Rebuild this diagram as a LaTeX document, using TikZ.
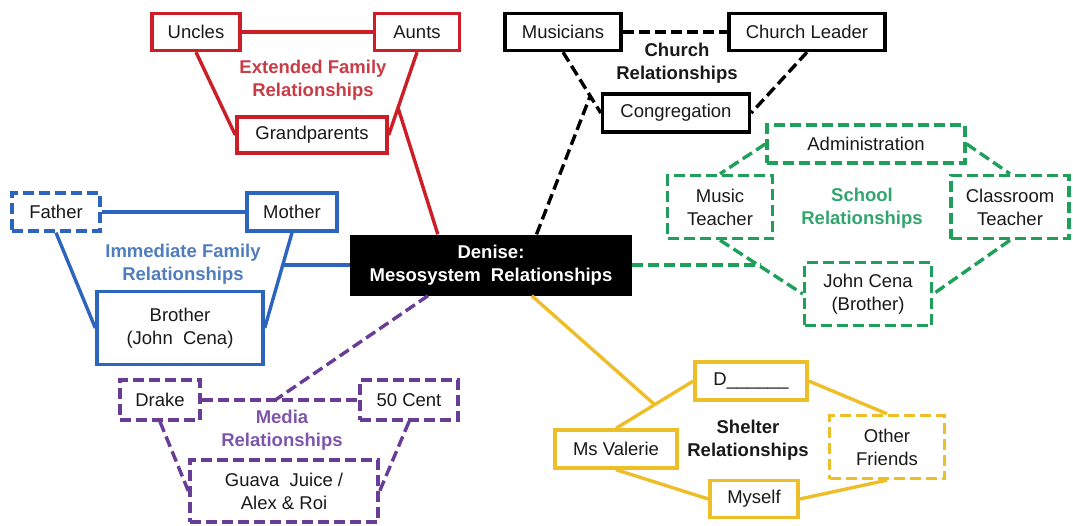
\documentclass[tikz,border=0pt]{standalone}
\usepackage{fontspec}
\setmainfont{Liberation Sans}
\usepackage{xcolor}
\definecolor{myred}{RGB}{204,30,38}
\definecolor{redtag}{RGB}{200,60,70}
\definecolor{myblue}{RGB}{45,100,190}
\definecolor{bluetag}{RGB}{80,125,190}
\definecolor{mygreen}{RGB}{30,160,90}
\definecolor{greentag}{RGB}{50,165,110}
\definecolor{mypurple}{RGB}{105,60,150}
\definecolor{purpletag}{RGB}{125,85,170}
\definecolor{myyellow}{RGB}{238,190,40}

\begin{document}
\begin{tikzpicture}
  [x=1pt,y=-1pt,
   every node/.style={inner sep=1pt,align=center,text=black!90,
     font=\fontsize{18.5}{23}\selectfont},
   box/.style 2 args={draw,line width=3.4pt,fill=white,
     minimum width=#1pt,minimum height=#2pt},
   tag/.style={font=\bfseries\fontsize{18.5}{23}\selectfont},
   link/.style={line width=3.4pt},
   dashy/.style={dash pattern=on 11pt off 5pt}]
  \useasboundingbox (0,0) rectangle (1073,525);

  % centre
  \node[fill=black,text=white,minimum width=282pt,minimum height=61pt,tag]
    (den) at (491,265) {Denise:\\Mesosystem~~Relationships};

  % extended family
  \node[box={88}{37},draw=myred]  (unc) at (196,32)  {Uncles};
  \node[box={85}{37},draw=myred]  (aun) at (417,32)  {Aunts};
  \node[box={150}{36},draw=myred] (gra) at (312,135) {Grandparents};
  \node[tag,text=redtag] (lext) at (313,80) {Extended Family\\Relationships};

  \foreach \from/\to in {unc.east/aun.west,unc.south/gra.west,aun.south/gra.east}
    \draw[link,myred] (\from) -- (\to);
  \path (aun.south) -- (gra.east) coordinate[pos=.67] (cext);
  \draw[link,myred] (den.150) -- (cext);

  % church
  \node[box={116}{37},draw=black] (mus) at (563,32)  {Musicians};
  \node[box={156}{37},draw=black] (cle) at (807,32)  {Church Leader};
  \node[box={147}{38},draw=black] (con) at (676,113) {Congregation};
  \node[tag] (lchu) at (677,63) {Church\\Relationships};

  \foreach \from/\to in {mus.east/cle.west,mus.south/con.west,cle.south/con.east}
    \draw[link,black,dashy] (\from) -- (\to);
  \path (mus.south) -- (con.west) coordinate[pos=.72] (cchu);
  \draw[link,black,dashy] (den.34) -- (cchu);

  % school
  \node[box={198}{38},draw=mygreen,dashy] (adm) at (866,144)  {Administration};
  \node[box={105}{63},draw=mygreen,dashy] (mte) at (720,207)  {Music\\Teacher};
  \node[box={118}{63},draw=mygreen,dashy] (cte) at (1010,207) {Classroom\\Teacher};
  \node[box={127}{63},draw=mygreen,dashy] (jcb) at (868,294)  {John Cena\\(Brother)};
  \node[tag,text=greentag] (lsch) at (862,208) {School\\Relationships};

  \foreach \from/\to in {adm.west/mte.north,adm.east/cte.north,
                         mte.south/jcb.west,cte.south/jcb.east}
    \draw[link,mygreen,dashy] (\from) -- (\to);
  \path (mte.south) -- (jcb.west) coordinate[pos=.49] (csch);
  \draw[link,mygreen,dashy] (den.east) -- (csch |- den.east);

  % immediate family
  \node[box={88}{38},draw=myblue,dashy] (fat) at (56,212)  {Father};
  \node[box={90}{38},draw=myblue]       (mot) at (292,212) {Mother};
  \node[box={166}{73},draw=myblue]      (bro) at (180,328) {Brother\\(John~~Cena)};
  \node[tag,text=bluetag] (limm) at (183,264) {Immediate Family\\Relationships};

  \foreach \from/\to in {fat.east/mot.west,fat.south/bro.west,mot.south/bro.east}
    \draw[link,myblue] (\from) -- (\to);
  \path (mot.south) -- (bro.east) coordinate[pos=.35] (cimm);
  \draw[link,myblue] (den.west) -- (cimm |- den.west);

  % media
  \node[box={80}{40},draw=mypurple,dashy]  (dra) at (160,400) {Drake};
  \node[box={98}{40},draw=mypurple,dashy]  (fif) at (409,400) {50 Cent};
  \node[box={188}{62},draw=mypurple,dashy] (gua) at (284,491) {Guava~~Juice /\\Alex \& Roi};
  \node[tag,text=purpletag] (lmed) at (282,430) {Media\\Relationships};

  \foreach \from/\to in {dra.east/fif.west,dra.south/gua.west,fif.south/gua.east}
    \draw[link,mypurple,dashy] (\from) -- (\to);
  \path (dra.east) -- (fif.west) coordinate[pos=.47] (cmed);
  \draw[link,mypurple,dashy] (den.206) -- (cmed);

  % shelter
  \node[box={112}{38},draw=myyellow]       (dee) at (751,381) {D\_\_\_\_\_\_};
  \node[box={122}{38},draw=myyellow]       (val) at (616,449) {Ms Valerie};
  \node[box={115}{63},draw=myyellow,dashy] (oth) at (887,447) {Other\\Friends};
  \node[box={88}{37},draw=myyellow]        (mys) at (754,499) {Myself};
  \node[tag] (lshe) at (748,440) {Shelter\\Relationships};

  \foreach \from/\to in {val.north/dee.west,dee.east/oth.north,
                         val.south/mys.west,mys.east/oth.south}
    \draw[link,myyellow] (\from) -- (\to);
  \path (val.north) -- (dee.west) coordinate[pos=.5] (cshe);
  \draw[link,myyellow] (den.323) -- (cshe);

\end{tikzpicture}
\end{document}
